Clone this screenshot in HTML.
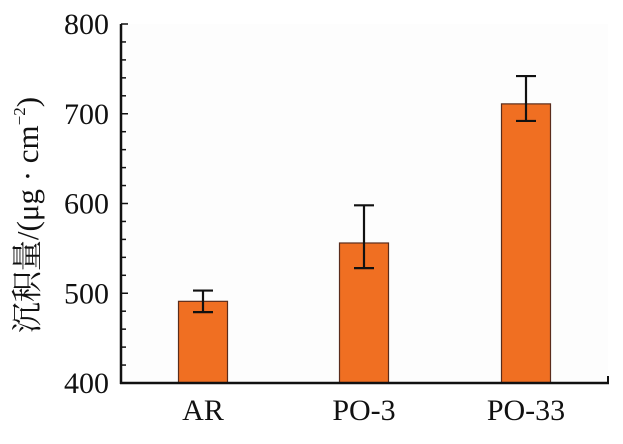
<!DOCTYPE html>
<html><head><meta charset="utf-8"><style>
html,body{margin:0;padding:0;background:#fff;}
svg text{font-family:"Liberation Serif","Noto Serif CJK SC",serif;fill:#111;}
</style></head><body>
<svg id="chart" width="623" height="439" viewBox="0 0 623 439" xmlns="http://www.w3.org/2000/svg">
<rect x="121" y="24" width="487" height="359" fill="#fdfdfd"/>
<g id="marks"></g>
<g id="axes"></g>
<text transform="translate(38,215) rotate(-90)" text-anchor="middle" font-size="31">沉积量/(μg · cm<tspan font-size="17" dy="-13">−2</tspan><tspan dy="13">)</tspan></text>
</svg>
<script>
const categories=["AR","PO-3","PO-33"];
const values=[491,556,711];
const errLow=[479,528,692];
const errHigh=[503,598,742];
const yTicks=[400,500,600,700,800];
const NS="http://www.w3.org/2000/svg";
const L=121,R=608,T=24,B=383,ymin=400,ymax=800;
const centers=[203,364,526];
function y(v){return B-(v-ymin)/(ymax-ymin)*(B-T);}
function xc(i){return centers[i];}
function mk(tag,attrs,parent){const e=document.createElementNS(NS,tag);for(const k in attrs)e.setAttribute(k,attrs[k]);parent.appendChild(e);return e;}
const marks=document.getElementById('marks'),axes=document.getElementById('axes');
const bw=49;
categories.forEach((c,i)=>{
  const r=mk('rect',{x:xc(i)-bw/2,y:y(values[i]),width:bw,height:B-y(values[i]),fill:'#f06f22',stroke:'#5a2c1c','stroke-width':1.2},marks);
  
  
  const g=mk('g',{stroke:'#111','stroke-width':2.2},marks);
  
  
  mk('line',{x1:xc(i),x2:xc(i),y1:y(errLow[i]),y2:y(errHigh[i])},g);
  mk('line',{x1:xc(i)-10,x2:xc(i)+10,y1:y(errLow[i]),y2:y(errLow[i])},g);
  mk('line',{x1:xc(i)-10,x2:xc(i)+10,y1:y(errHigh[i]),y2:y(errHigh[i])},g);
  const t=mk('text',{x:xc(i),y:420,'text-anchor':'middle','font-size':30},axes);
  t.textContent=c;
  
  
});
const ya=mk('line',{x1:L,x2:L,y1:T,y2:B+1,stroke:'#111','stroke-width':2.5},axes);


const xa=mk('line',{x1:L-1,x2:R+1,y1:B,y2:B,stroke:'#111','stroke-width':2.5},axes);


const rt=mk('line',{x1:R,x2:R,y1:B-7,y2:B,stroke:'#111','stroke-width':2},axes);


for(let v=ymin;v<=ymax;v+=20){
  const major=(v%100===0);
  const tk=mk('line',{x1:L,x2:L+(major?7:5),y1:y(v),y2:y(v),stroke:'#111','stroke-width':1.5},axes);
  
  
}
yTicks.forEach(v=>{
  const t=mk('text',{x:109,y:y(v)+10,'text-anchor':'end','font-size':30},axes);
  t.textContent=v;
  
  
});
</script>
</body></html>
